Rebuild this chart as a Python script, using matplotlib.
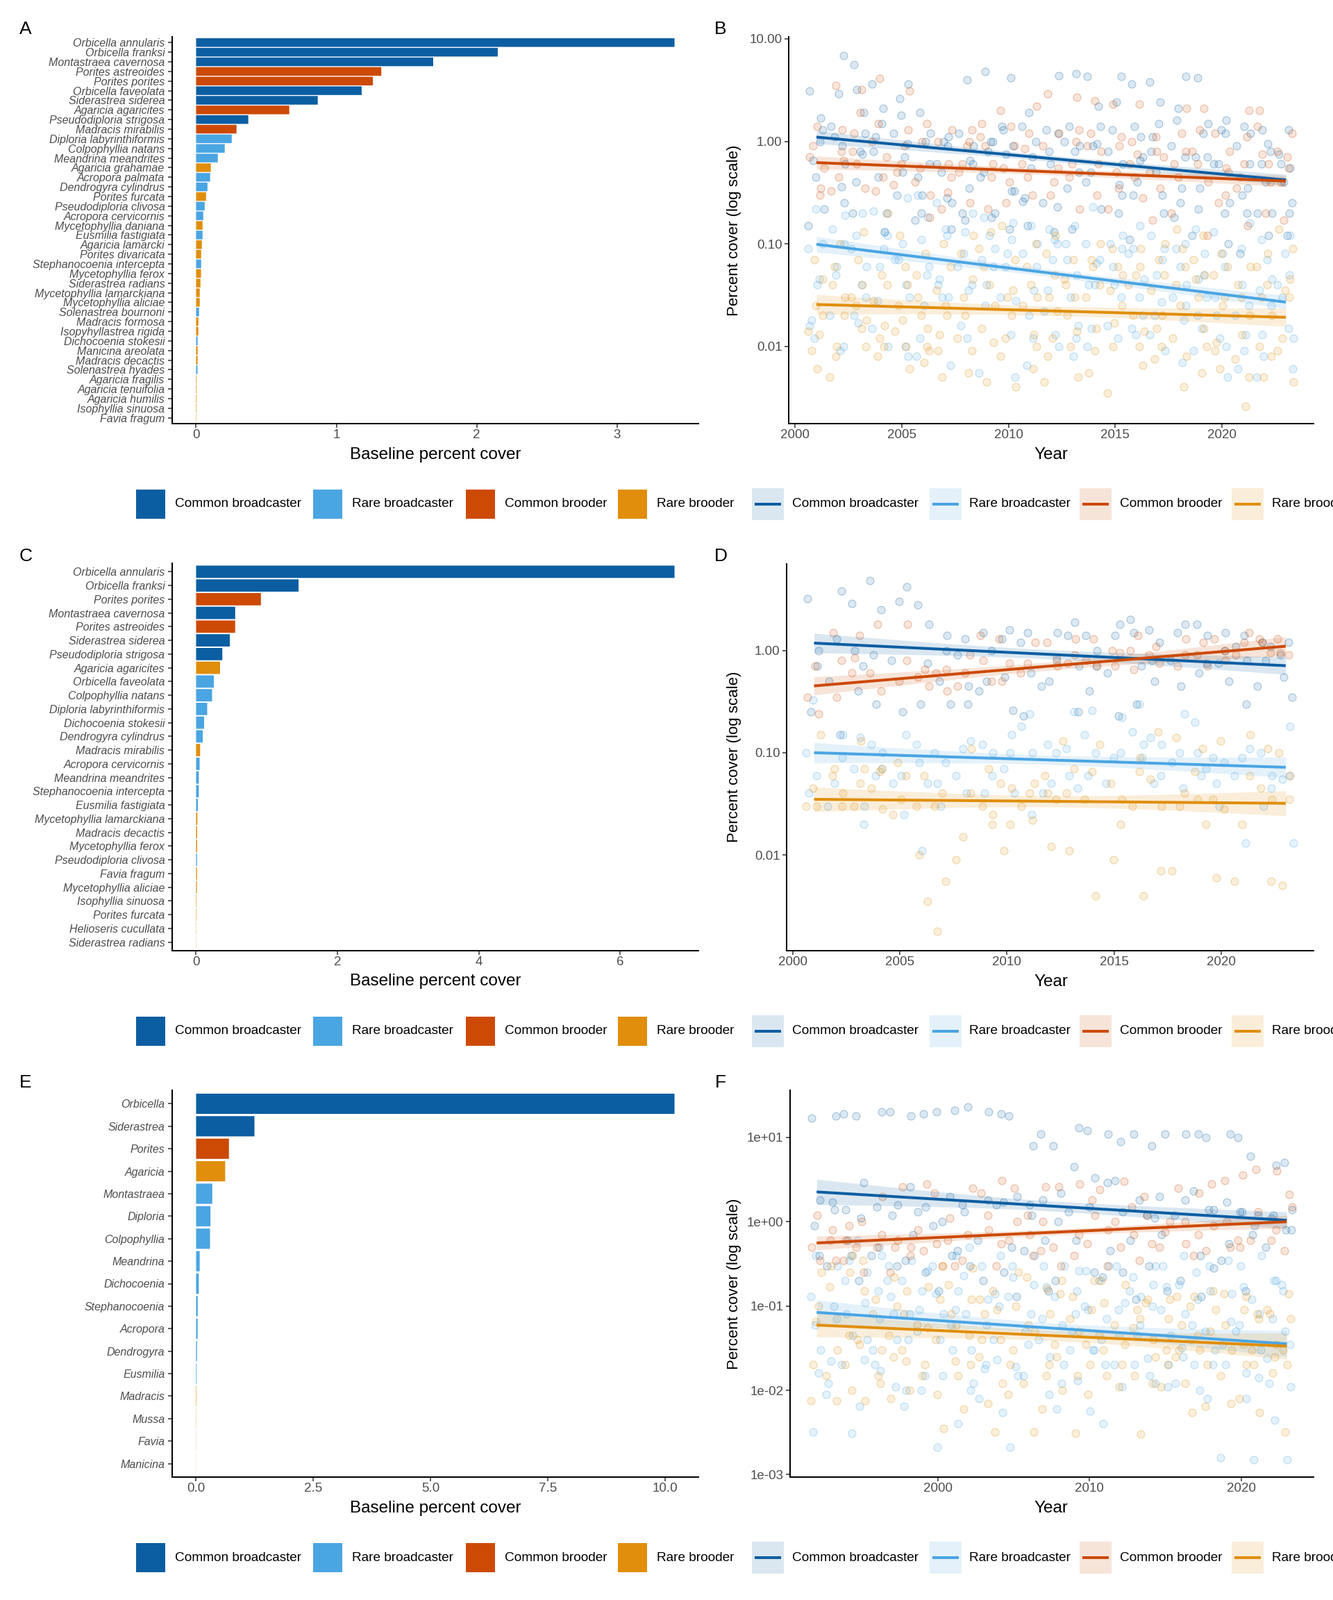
import numpy as np
import matplotlib
matplotlib.use('Agg')
import matplotlib.pyplot as plt
from matplotlib.patches import Rectangle
from matplotlib.lines import Line2D
from matplotlib.colors import to_rgba
from matplotlib.ticker import FixedLocator, NullLocator

plt.rcParams['font.family'] = ['Liberation Sans', 'DejaVu Sans']

# ---------------- data ----------------
GROUPS = ['Common broadcaster', 'Rare broadcaster', 'Common brooder', 'Rare brooder']
CODES = ['CB', 'RB', 'CBr', 'RBr']
COLORS = ['#0B5EA2', '#4AA5E3', '#CC4A04', '#E08E0B']

A_species = ['Orbicella annularis', 'Orbicella franksi', 'Montastraea cavernosa', 'Porites astreoides',
             'Porites porites', 'Orbicella faveolata', 'Siderastrea siderea', 'Agaricia agaricites',
             'Pseudodiploria strigosa', 'Madracis mirabilis', 'Diploria labyrinthiformis', 'Colpophyllia natans',
             'Meandrina meandrites', 'Agaricia grahamae', 'Acropora palmata', 'Dendrogyra cylindrus',
             'Porites furcata', 'Pseudodiploria clivosa', 'Acropora cervicornis', 'Mycetophyllia daniana',
             'Eusmilia fastigiata', 'Agaricia lamarcki', 'Porites divaricata', 'Stephanocoenia intercepta',
             'Mycetophyllia ferox', 'Siderastrea radians', 'Mycetophyllia lamarckiana', 'Mycetophyllia aliciae',
             'Solenastrea bournoni', 'Madracis formosa', 'Isopyhyllastrea rigida', 'Dichocoenia stokesii',
             'Manicina areolata', 'Madracis decactis', 'Solenastrea hyades', 'Agaricia fragilis',
             'Agaricia tenuifolia', 'Agaricia humilis', 'Isophyllia sinuosa', 'Favia fragum']
A_cover = [3.41, 2.15, 1.69, 1.32, 1.26, 1.18, 0.867, 0.664, 0.372, 0.288, 0.254, 0.204, 0.155, 0.105,
           0.100, 0.081, 0.071, 0.061, 0.051, 0.046, 0.046, 0.041, 0.036, 0.036, 0.035, 0.031, 0.026,
           0.026, 0.021, 0.016, 0.016, 0.011, 0.011, 0.011, 0.010, 0.004, 0.004, 0.004, 0.003, 0.002]
A_group = ['CB', 'CB', 'CB', 'CBr', 'CBr', 'CB', 'CB', 'CBr', 'CB', 'CBr', 'RB', 'RB', 'RB', 'RBr', 'RB',
           'RB', 'RBr', 'RB', 'RB', 'RBr', 'RB', 'RBr', 'RBr', 'RB', 'RBr', 'RBr', 'RBr', 'RBr', 'RB', 'RBr',
           'RBr', 'RB', 'RBr', 'RBr', 'RB', 'RBr', 'RBr', 'RBr', 'RBr', 'RBr']
A_ticks = [0, 1, 2, 3]
A_ticklabels = ['0', '1', '2', '3']

C_species = ['Orbicella annularis', 'Orbicella franksi', 'Porites porites', 'Montastraea cavernosa',
             'Porites astreoides', 'Siderastrea siderea', 'Pseudodiploria strigosa', 'Agaricia agaricites',
             'Orbicella faveolata', 'Colpophyllia natans', 'Diploria labyrinthiformis', 'Dichocoenia stokesii',
             'Dendrogyra cylindrus', 'Madracis mirabilis', 'Acropora cervicornis', 'Meandrina meandrites',
             'Stephanocoenia intercepta', 'Eusmilia fastigiata', 'Mycetophyllia lamarckiana', 'Madracis decactis',
             'Mycetophyllia ferox', 'Pseudodiploria clivosa', 'Favia fragum', 'Mycetophyllia aliciae',
             'Isophyllia sinuosa', 'Porites furcata', 'Helioseris cucullata', 'Siderastrea radians']
C_cover = [6.77, 1.45, 0.917, 0.553, 0.553, 0.477, 0.371, 0.339, 0.251, 0.226, 0.157, 0.113, 0.094, 0.057,
           0.050, 0.038, 0.038, 0.025, 0.018, 0.015, 0.015, 0.013, 0.013, 0.012, 0.006, 0.005, 0.003, 0.002]
C_group = ['CB', 'CB', 'CBr', 'CB', 'CBr', 'CB', 'CB', 'RBr', 'RB', 'RB', 'RB', 'RB', 'RB', 'RBr', 'RB',
           'RB', 'RB', 'RB', 'RBr', 'RBr', 'RBr', 'RB', 'RBr', 'RBr', 'RBr', 'RBr', 'RBr', 'RBr']
C_ticks = [0, 2, 4, 6]
C_ticklabels = ['0', '2', '4', '6']

E_genus = ['Orbicella', 'Siderastrea', 'Porites', 'Agaricia', 'Montastraea', 'Diploria', 'Colpophyllia',
           'Meandrina', 'Dichocoenia', 'Stephanocoenia', 'Acropora', 'Dendrogyra', 'Eusmilia', 'Madracis',
           'Mussa', 'Favia', 'Manicina']
E_cover = [10.2, 1.244, 0.70, 0.62, 0.345, 0.306, 0.297, 0.077, 0.057, 0.035, 0.033, 0.020, 0.012, 0.008,
           0.004, 0.003, 0.002]
E_group = ['CB', 'CB', 'CBr', 'RBr', 'RB', 'RB', 'RB', 'RB', 'RB', 'RB', 'RB', 'RB', 'RB', 'RBr', 'RBr',
           'RBr', 'RBr']
E_ticks = [0, 2.5, 5, 7.5, 10]
E_ticklabels = ['0.0', '2.5', '5.0', '7.5', '10.0']

# ---- panel B (species-level cover per year, 2001-2023) ----
B_years = list(range(2001, 2024))
B_cb = [[3.1, 1.7, 1.0, 0.65, 0.22, 1.3, 0.45, 0.15], [6.9, 2.9, 1.4, 0.9, 0.36, 1.1, 0.6, 0.25],
        [5.6, 3.2, 1.2, 0.8, 0.2, 1.9, 0.75, 0.4], [3.6, 2.1, 1.1, 0.45, 0.2, 1.5, 0.8, 0.13],
        [3.6, 1.8, 1.2, 0.7, 0.3, 2.6, 0.95, 0.5], [1.9, 1.2, 0.6, 0.3, 0.17, 1.0, 0.45, 0.2],
        [1.1, 0.9, 0.5, 0.25, 0.14, 1.0, 0.6, 0.28], [4.0, 1.2, 0.65, 0.35, 0.2, 0.9, 0.6, 0.17],
        [4.8, 1.0, 0.8, 0.45, 0.18, 1.0, 0.5, 0.2], [4.2, 1.3, 0.75, 0.33, 0.14, 1.4, 0.9, 0.33],
        [1.9, 1.4, 0.7, 0.28, 0.15, 1.0, 0.55, 0.26], [4.4, 1.2, 0.6, 0.25, 0.13, 1.3, 0.8, 0.23],
        [4.6, 1.4, 0.9, 0.5, 0.14, 1.0, 0.8, 0.35], [4.3, 2.2, 0.95, 0.5, 0.22, 1.4, 0.9, 0.4],
        [4.3, 2.4, 0.8, 0.38, 0.2, 1.3, 0.6, 0.3], [3.6, 1.4, 0.7, 0.4, 0.11, 1.1, 0.65, 0.3],
        [3.8, 2.4, 1.1, 0.5, 0.2, 1.5, 0.8, 0.3], [4.3, 2.1, 0.9, 0.35, 0.18, 1.6, 0.7, 0.25],
        [4.2, 1.5, 0.7, 0.35, 0.12, 1.2, 0.7, 0.22], [1.6, 1.2, 0.6, 0.25, 0.1, 1.3, 0.6, 0.2],
        [1.4, 0.9, 0.35, 0.2, 0.08, 1.2, 0.6, 0.3], [1.3, 0.8, 0.4, 0.2, 0.12, 0.95, 0.6, 0.2],
        [1.3, 0.6, 0.4, 0.25, 0.12, 0.75, 0.55, 0.2]]
B_rb = [[0.22, 0.09, 0.045, 0.018, 0.012, 0.1, 0.04, 0.016], [0.19, 0.1, 0.06, 0.02, 0.009, 0.14, 0.05, 0.01],
        [0.2, 0.12, 0.06, 0.03, 0.017, 0.09, 0.04, 0.02], [0.21, 0.13, 0.09, 0.028, 0.01, 0.12, 0.06, 0.015],
        [0.28, 0.1, 0.07, 0.04, 0.01, 0.07, 0.03, 0.008], [0.3, 0.11, 0.06, 0.025, 0.008, 0.18, 0.05, 0.012],
        [0.25, 0.12, 0.045, 0.03, 0.0065, 0.14, 0.04, 0.03], [0.2, 0.13, 0.06, 0.035, 0.016, 0.08, 0.04, 0.012],
        [0.18, 0.09, 0.06, 0.04, 0.0055, 0.12, 0.07, 0.025], [0.16, 0.11, 0.06, 0.028, 0.005, 0.08, 0.03, 0.013],
        [0.15, 0.08, 0.035, 0.012, 0.0065, 0.1, 0.06, 0.02], [0.14, 0.1, 0.07, 0.022, 0.013, 0.11, 0.035, 0.01],
        [0.15, 0.07, 0.03, 0.016, 0.008, 0.1, 0.05, 0.012], [0.23, 0.1, 0.065, 0.04, 0.015, 0.07, 0.04, 0.01],
        [0.12, 0.09, 0.04, 0.016, 0.012, 0.1, 0.06, 0.03], [0.15, 0.09, 0.045, 0.02, 0.013, 0.08, 0.03, 0.015],
        [0.12, 0.07, 0.027, 0.02, 0.009, 0.09, 0.05, 0.013], [0.1, 0.06, 0.03, 0.018, 0.007, 0.09, 0.04, 0.025],
        [0.14, 0.045, 0.03, 0.015, 0.009, 0.08, 0.05, 0.02], [0.13, 0.06, 0.02, 0.012, 0.005, 0.08, 0.03, 0.01],
        [0.16, 0.04, 0.02, 0.013, 0.006, 0.09, 0.025, 0.009], [0.11, 0.045, 0.025, 0.008, 0.005, 0.07, 0.035, 0.013],
        [0.12, 0.05, 0.03, 0.012, 0.006, 0.08, 0.04, 0.015]]
B_cbr = [[1.4, 0.7, 0.35, 0.3, 0.9, 0.55], [3.5, 0.65, 0.45, 0.33, 1.3, 0.8], [3.2, 1.2, 0.6, 0.35, 1.9, 0.8],
         [4.1, 1.0, 0.45, 0.33, 1.5, 0.7], [3.1, 1.3, 0.6, 0.38, 0.9, 0.5], [1.5, 0.55, 0.3, 0.18, 1.0, 0.4],
         [1.0, 0.6, 0.32, 0.22, 1.3, 0.45], [1.3, 0.9, 0.5, 0.25, 1.0, 0.6], [1.5, 0.9, 0.6, 0.22, 1.1, 0.45],
         [2.0, 1.4, 0.55, 0.25, 0.9, 0.4], [2.2, 1.2, 0.6, 0.3, 0.85, 0.45], [2.9, 1.2, 0.55, 0.3, 0.9, 0.4],
         [2.7, 1.0, 0.45, 0.22, 1.3, 0.6], [2.5, 0.9, 0.6, 0.3, 1.2, 0.8], [2.3, 1.1, 0.5, 0.22, 0.9, 0.35],
         [2.3, 1.0, 0.45, 0.28, 0.75, 0.6], [0.8, 0.5, 0.35, 0.17, 1.1, 0.7], [2.1, 0.8, 0.45, 0.2, 1.2, 0.6],
         [2.1, 0.6, 0.4, 0.12, 1.3, 0.8], [1.2, 0.55, 0.3, 0.25, 0.8, 0.5], [2.0, 0.6, 0.35, 0.15, 1.1, 0.45],
         [2.0, 0.75, 0.4, 0.2, 1.4, 0.6], [0.8, 0.55, 0.4, 0.17, 1.2, 0.7]]
B_rbr = [[0.045, 0.025, 0.014, 0.013, 0.009, 0.07, 0.02, 0.006],
         [0.06, 0.03, 0.02, 0.01, 0.005, 0.1, 0.04, 0.008],
         [0.13, 0.04, 0.025, 0.018, 0.01, 0.07, 0.03, 0.015],
         [0.05, 0.028, 0.016, 0.01, 0.008, 0.2, 0.04, 0.012],
         [0.12, 0.04, 0.018, 0.014, 0.01, 0.06, 0.025, 0.006],
         [0.08, 0.03, 0.02, 0.009, 0.007, 0.05, 0.015, 0.01],
         [0.1, 0.035, 0.02, 0.013, 0.005, 0.06, 0.025, 0.009],
         [0.12, 0.045, 0.02, 0.012, 0.0055, 0.08, 0.03, 0.009],
         [0.13, 0.06, 0.025, 0.011, 0.0045, 0.09, 0.04, 0.015],
         [0.15, 0.035, 0.02, 0.012, 0.004, 0.07, 0.03, 0.008],
         [0.1, 0.04, 0.025, 0.013, 0.006, 0.06, 0.03, 0.01],
         [0.08, 0.03, 0.022, 0.012, 0.0045, 0.12, 0.05, 0.008],
         [0.045, 0.03, 0.02, 0.01, 0.005, 0.07, 0.04, 0.014],
         [0.1, 0.06, 0.03, 0.015, 0.0055, 0.07, 0.04, 0.009],
         [0.09, 0.05, 0.025, 0.017, 0.0035, 0.06, 0.035, 0.01],
         [0.09, 0.06, 0.02, 0.014, 0.0065, 0.05, 0.04, 0.01],
         [0.07, 0.035, 0.02, 0.01, 0.0075, 0.1, 0.05, 0.015],
         [0.14, 0.06, 0.025, 0.012, 0.004, 0.09, 0.04, 0.008],
         [0.12, 0.045, 0.03, 0.01, 0.0055, 0.07, 0.05, 0.015],
         [0.08, 0.05, 0.03, 0.011, 0.006, 0.06, 0.025, 0.009],
         [0.06, 0.02, 0.013, 0.0075, 0.0026, 0.04, 0.03, 0.005],
         [0.08, 0.03, 0.02, 0.008, 0.005, 0.06, 0.04, 0.01],
         [0.14, 0.045, 0.03, 0.012, 0.0045, 0.09, 0.035, 0.009]]
# fitted trends (value at first and last year) and CI half-widths in log10 units: CB, RB, CBr, RBr
B_fit_start = [1.10, 0.099, 0.62, 0.0256]
B_fit_end = [0.42, 0.027, 0.41, 0.0192]
B_ci_start = [0.064, 0.076, 0.064, 0.096]
B_ci_mid = [0.03, 0.035, 0.03, 0.045]
B_ci_end = [0.055, 0.064, 0.057, 0.09]

# ---- panel D ----
D_years = list(range(2001, 2024))
D_cb = [[3.2, 1.0, 0.7, 0.25], [3.8, 1.3, 0.5, 0.15], [2.9, 1.0, 0.7, 0.4], [4.8, 2.5, 0.9, 0.3],
        [4.2, 3.0, 0.8, 0.25], [2.8, 1.8, 0.75, 0.3], [1.4, 1.0, 0.5, 0.3], [1.3, 0.9, 0.45, 0.3],
        [1.5, 1.0, 0.5, 0.4], [1.6, 1.3, 0.55, 0.26], [1.5, 1.2, 0.6, 0.23], [1.5, 0.8, 0.5, 0.45],
        [1.9, 1.4, 0.7, 0.25], [1.4, 1.0, 0.7, 0.4], [1.8, 1.4, 0.6, 0.23], [2.0, 1.5, 0.7, 0.3],
        [1.6, 1.2, 0.8, 0.5], [1.8, 1.5, 0.8, 0.45], [1.8, 1.4, 0.75, 0.6], [1.5, 1.0, 0.75, 0.5],
        [1.4, 1.1, 0.8, 0.3], [1.2, 1.1, 0.8, 0.45], [1.2, 0.9, 0.55, 0.35]]
D_rb = [[0.33, 0.1, 0.06, 0.04], [0.15, 0.09, 0.05, 0.03], [0.14, 0.07, 0.03, 0.02], [0.12, 0.1, 0.07, 0.06],
        [0.15, 0.06, 0.05, 0.025], [0.12, 0.08, 0.05, 0.011], [0.1, 0.08, 0.05, 0.03], [0.13, 0.11, 0.06, 0.04],
        [0.12, 0.1, 0.06, 0.04], [0.15, 0.1, 0.07, 0.04], [0.24, 0.18, 0.1, 0.025], [0.12, 0.1, 0.05, 0.04],
        [0.25, 0.11, 0.06, 0.045], [0.26, 0.15, 0.1, 0.06], [0.22, 0.1, 0.09, 0.05], [0.3, 0.16, 0.12, 0.09],
        [0.14, 0.12, 0.06, 0.05], [0.24, 0.1, 0.08, 0.045], [0.2, 0.1, 0.07, 0.06], [0.09, 0.08, 0.05, 0.03],
        [0.11, 0.09, 0.06, 0.013], [0.1, 0.06, 0.045, 0.03], [0.18, 0.06, 0.055, 0.013]]
D_cbr = [[0.7, 0.35, 0.24], [1.5, 0.8, 0.35], [1.4, 0.6, 0.85], [1.8, 0.6, 0.4], [1.8, 0.8, 0.5],
         [0.65, 0.55, 0.45], [0.6, 0.4, 0.65], [0.9, 0.6, 0.45], [1.4, 0.8, 0.5], [1.3, 0.75, 0.5],
         [1.2, 0.75, 0.6], [1.2, 0.7, 0.85], [1.3, 0.9, 0.75], [1.3, 0.8, 0.7], [1.0, 0.95, 0.7],
         [1.4, 1.0, 0.65], [1.1, 0.9, 0.75], [1.3, 0.9, 0.7], [1.2, 0.9, 0.7], [1.3, 0.8, 1.0],
         [1.5, 1.2, 0.9], [1.3, 1.2, 0.95], [1.3, 0.9, 0.95]]
D_rbr = [[0.15, 0.045, 0.03, 0.03], [0.06, 0.04, 0.03, 0.07], [0.13, 0.05, 0.03, 0.07], [0.065, 0.045, 0.028, 0.07],
         [0.08, 0.06, 0.035, 0.025], [0.06, 0.03, 0.01, 0.0035], [0.04, 0.03, 0.0055, 0.0018],
         [0.11, 0.04, 0.015, 0.009], [0.07, 0.03, 0.025, 0.02], [0.05, 0.045, 0.02, 0.011],
         [0.05, 0.04, 0.03, 0.022], [0.06, 0.04, 0.035, 0.012], [0.13, 0.07, 0.04, 0.011],
         [0.12, 0.065, 0.035, 0.004], [0.05, 0.035, 0.02, 0.009], [0.09, 0.065, 0.03, 0.004],
         [0.16, 0.055, 0.03, 0.007], [0.14, 0.04, 0.03, 0.007], [0.11, 0.065, 0.035, 0.02],
         [0.13, 0.035, 0.028, 0.006], [0.15, 0.06, 0.02, 0.0055], [0.11, 0.045, 0.035, 0.0055],
         [0.1, 0.06, 0.035, 0.005]]
D_fit_start = [1.18, 0.10, 0.45, 0.035]
D_fit_end = [0.71, 0.072, 1.10, 0.032]
D_ci_start = [0.096, 0.099, 0.089, 0.12]
D_ci_mid = [0.045, 0.045, 0.04, 0.055]
D_ci_end = [0.086, 0.10, 0.093, 0.123]

# ---- panel F (genus-level, 1992-2023) ----
F_years = list(range(1992, 2024))
F_cb = [[17, 1.8, 0.4, 0.9], [18, 1.7, 0.3, 1.4], [19, 1.4, 0.4, 0.6], [18, 2.9, 0.2, 1.1], [20, 1.5, 0.4, 0.5],
        [20, 1.6, 0.3, 1.2], [18, 2.6, 0.35, 0.7], [19, 1.3, 0.25, 1.5], [20, 1.0, 0.15, 0.9], [21, 2.0, 0.4, 0.45],
        [23, 1.6, 0.3, 1.3], [20, 1.8, 0.2, 0.6], [19, 1.6, 0.25, 1.7], [18, 2.0, 0.13, 0.5], [8, 1.6, 0.45, 1.2],
        [11, 1.8, 0.15, 0.6], [8, 2.2, 0.2, 1.0], [13, 4.5, 1.3, 0.6], [12, 3.3, 0.25, 1.5], [11, 2.9, 0.22, 0.45],
        [9, 3.1, 0.25, 1.3], [11, 1.8, 0.12, 0.6], [8, 1.2, 0.3, 1.1], [11, 2.0, 0.15, 0.7], [11, 1.8, 0.2, 1.2],
        [11, 2.3, 0.13, 0.4], [10, 1.4, 0.28, 1.4], [11, 1.7, 0.35, 0.55], [10, 1.3, 0.15, 1.3], [6, 1.2, 0.7, 0.9],
        [4.7, 1.1, 0.5, 1.2], [5, 1.4, 0.8, 0.8]]
F_rb = [[0.4, 0.13, 0.016, 0.0032, 0.06, 0.03], [0.3, 0.07, 0.022, 0.009, 0.1, 0.012],
        [0.35, 0.2, 0.045, 0.0031, 0.08, 0.02], [0.6, 0.11, 0.023, 0.0065, 0.25, 0.04],
        [0.4, 0.15, 0.03, 0.017, 0.07, 0.02], [0.3, 0.13, 0.04, 0.08, 0.2, 0.011],
        [0.2, 0.08, 0.0065, 0.01, 0.35, 0.04], [0.26, 0.15, 0.05, 0.015, 0.09, 0.01],
        [0.14, 0.08, 0.015, 0.0021, 0.3, 0.04], [0.4, 0.09, 0.06, 0.004, 0.15, 0.03],
        [0.5, 0.23, 0.03, 0.01, 0.08, 0.012], [0.3, 0.12, 0.018, 0.008, 0.06, 0.02],
        [0.4, 0.14, 0.023, 0.0055, 0.1, 0.04], [0.22, 0.13, 0.019, 0.0021, 0.3, 0.015],
        [0.4, 0.18, 0.035, 0.015, 0.08, 0.05], [0.17, 0.07, 0.025, 0.009, 0.3, 0.04],
        [0.13, 0.06, 0.012, 0.006, 0.3, 0.02], [0.26, 0.08, 0.03, 0.013, 0.15, 0.05],
        [0.26, 0.09, 0.03, 0.0057, 0.1, 0.03], [0.2, 0.07, 0.04, 0.004, 0.3, 0.02],
        [0.11, 0.045, 0.02, 0.011, 0.3, 0.09], [0.22, 0.13, 0.06, 0.02, 0.15, 0.045],
        [0.18, 0.1, 0.024, 0.012, 0.3, 0.015], [0.17, 0.09, 0.02, 0.011, 0.3, 0.045],
        [0.18, 0.08, 0.032, 0.012, 0.4, 0.025], [0.12, 0.06, 0.02, 0.01, 0.25, 0.04],
        [0.15, 0.05, 0.02, 0.008, 0.3, 0.03], [0.14, 0.065, 0.02, 0.0016, 0.35, 0.035],
        [0.17, 0.06, 0.016, 0.008, 0.3, 0.05], [0.12, 0.08, 0.014, 0.0015, 0.4, 0.03],
        [0.2, 0.07, 0.024, 0.0044, 0.2, 0.012], [0.15, 0.05, 0.011, 0.0015, 0.18, 0.035]]
F_cbr = [[1.2, 0.5, 0.35], [0.6, 0.35, 0.8], [0.9, 0.35, 0.6], [1.0, 0.5, 0.25], [2.0, 0.7, 0.5], [0.5, 0.25, 0.6],
         [2.6, 0.5, 0.4], [2.8, 0.45, 0.8], [2.2, 0.55, 0.3], [0.6, 0.3, 1.1], [2.5, 0.7, 0.35], [2.2, 0.8, 1.2],
         [3.1, 0.55, 0.3], [2.5, 0.6, 1.0], [1.2, 0.4, 0.7], [2.6, 0.45, 1.0], [2.6, 0.5, 0.3], [2.8, 0.7, 0.4],
         [1.8, 0.55, 1.2], [2.4, 0.8, 0.3], [3.0, 0.5, 1.0], [1.5, 0.7, 0.35], [2.0, 0.55, 1.2], [1.0, 0.75, 0.5],
         [2.5, 0.55, 1.0], [2.2, 0.7, 0.4], [2.8, 0.45, 0.9], [3.1, 0.5, 1.0], [3.6, 0.6, 0.5], [4.2, 0.6, 1.3],
         [4.0, 0.8, 0.6], [2.1, 0.45, 1.5]]
F_rbr = [[0.25, 0.065, 0.0075, 0.1, 0.02], [0.17, 0.03, 0.0075, 0.3, 0.015], [0.25, 0.045, 0.02, 0.4, 0.01],
         [0.35, 0.04, 0.0075, 0.15, 0.035], [0.12, 0.03, 0.015, 0.08, 0.012], [0.22, 0.045, 0.008, 0.1, 0.025],
         [0.15, 0.03, 0.01, 0.08, 0.022], [0.17, 0.055, 0.015, 0.06, 0.02], [0.12, 0.04, 0.0035, 0.3, 0.009],
         [0.18, 0.06, 0.022, 0.08, 0.015], [0.28, 0.045, 0.006, 0.12, 0.02], [0.12, 0.04, 0.007, 0.08, 0.025],
         [0.15, 0.04, 0.0032, 0.09, 0.012], [0.25, 0.03, 0.009, 0.1, 0.02], [0.22, 0.05, 0.0032, 0.06, 0.012],
         [0.16, 0.015, 0.006, 0.08, 0.02], [0.14, 0.035, 0.01, 0.2, 0.025], [0.13, 0.05, 0.0031, 0.07, 0.015],
         [0.09, 0.035, 0.009, 0.2, 0.02], [0.11, 0.045, 0.015, 0.2, 0.03], [0.18, 0.035, 0.011, 0.06, 0.02],
         [0.09, 0.055, 0.003, 0.07, 0.015], [0.11, 0.04, 0.012, 0.12, 0.025], [0.12, 0.03, 0.011, 0.07, 0.02],
         [0.13, 0.03, 0.012, 0.06, 0.025], [0.1, 0.045, 0.0055, 0.13, 0.03], [0.09, 0.05, 0.0065, 0.15, 0.02],
         [0.14, 0.03, 0.007, 0.06, 0.015], [0.09, 0.035, 0.008, 0.13, 0.02], [0.08, 0.03, 0.0055, 0.07, 0.02],
         [0.08, 0.035, 0.016, 0.09, 0.025], [0.14, 0.03, 0.0032, 0.07, 0.02]]
F_fit_start = [2.26, 0.084, 0.56, 0.0594]
F_fit_end = [1.04, 0.0356, 1.0, 0.0334]
F_ci_start = [0.15, 0.148, 0.082, 0.142]
F_ci_mid = [0.06, 0.06, 0.035, 0.06]
F_ci_end = [0.10, 0.156, 0.078, 0.156]

# ---------------- styling / layout ----------------
W, H = 1920, 2304
ROW = 758.5
JITTER = [-0.32, 0.12, -0.15, 0.28, -0.04, 0.2, -0.24, 0.35, 0.05, -0.38, 0.16, -0.1, 0.31]
TICK_C = '#4D4D4D'
col_of = dict(zip(CODES, COLORS))

fig = plt.figure(figsize=(W / 100, H / 100), dpi=100)


def rect(l, t, r, b):
    return [l / W, 1 - b / H, (r - l) / W, (b - t) / H]


def style_axes(ax):
    for s in ['top', 'right']:
        ax.spines[s].set_visible(False)
    for s in ['left', 'bottom']:
        ax.spines[s].set_linewidth(1.45)
        ax.spines[s].set_color('black')
    ax.tick_params(axis='both', which='major', length=4.3, width=1.1, color='#333333',
                   labelcolor=TICK_C)
    ax.tick_params(axis='x', labelsize=13.5, pad=1.5)


def bar_panel(ax, names, vals, groups, ticks, ticklabels):
    n = len(names)
    pos = np.arange(n)
    ax.barh(pos, vals, height=0.9, color=[col_of[g] for g in groups], linewidth=0, snap=False)
    vmax = max(vals)
    ax.set_xlim(-0.05 * vmax, 1.05 * vmax)
    ax.set_ylim(n - 1 + 0.6, -0.6)
    ax.set_yticks(pos)
    ax.set_yticklabels(names, fontstyle='italic', fontsize=11.5)
    ax.set_xticks(ticks)
    ax.set_xticklabels(ticklabels)
    style_axes(ax)
    ax.tick_params(axis='y', pad=3.4)


def scatter_panel(ax, years, group_data, fit_s, fit_e, ci_s, ci_m, ci_e, xlim, ylim, yticks, ylabels, xticks):
    nj = len(JITTER)
    for gi, vals in enumerate(group_data):
        xs, ys = [], []
        for j, (yr, yv) in enumerate(zip(years, vals)):
            for i, v in enumerate(yv):
                xs.append(yr + JITTER[(i * 5 + j * 3 + gi * 4) % nj])
                ys.append(v)
        c = COLORS[gi]
        ax.scatter(xs, ys, s=62, facecolor=to_rgba(c, 0.14), edgecolor=to_rgba(c, 0.33),
                   linewidths=0.8, zorder=2)
    x0, x1 = years[0], years[-1]
    xg = np.linspace(x0, x1, 120)
    t = (xg - (x0 + x1) / 2) / ((x1 - x0) / 2)
    for gi in range(4):
        c = COLORS[gi]
        ly = np.log10(fit_s[gi]) + (np.log10(fit_e[gi]) - np.log10(fit_s[gi])) * (xg - x0) / (x1 - x0)
        m = ci_m[gi]
        hw = np.where(t < 0, np.sqrt(m ** 2 + (ci_s[gi] ** 2 - m ** 2) * t ** 2),
                      np.sqrt(m ** 2 + (ci_e[gi] ** 2 - m ** 2) * t ** 2))
        ax.fill_between(xg, 10 ** (ly - hw), 10 ** (ly + hw), color=c, alpha=0.15, linewidth=0, zorder=3)
        ax.plot(xg, 10 ** ly, color=c, lw=2.9, zorder=4, solid_capstyle='butt')
    ax.set_yscale('log')
    ax.set_xlim(*xlim)
    ax.set_ylim(*ylim)
    ax.yaxis.set_major_locator(FixedLocator(yticks))
    ax.yaxis.set_minor_locator(NullLocator())
    ax.set_yticklabels(ylabels)
    ax.set_xticks(xticks)
    ax.set_xticklabels([str(x) for x in xticks])
    style_axes(ax)
    ax.tick_params(axis='y', labelsize=13.5, pad=2.5)


LEFT = (248, 1006)
TOP0, BOT0 = 53, 610

axA = fig.add_axes(rect(LEFT[0], TOP0, LEFT[1], BOT0))
bar_panel(axA, A_species, A_cover, A_group, A_ticks, A_ticklabels)
axC = fig.add_axes(rect(LEFT[0], TOP0 + ROW, LEFT[1], BOT0 + ROW))
bar_panel(axC, C_species, C_cover, C_group, C_ticks, C_ticklabels)
axE = fig.add_axes(rect(LEFT[0], TOP0 + 2 * ROW, LEFT[1], BOT0 + 2 * ROW))
bar_panel(axE, E_genus, E_cover, E_group, E_ticks, E_ticklabels)

axB = fig.add_axes(rect(1136, TOP0, 1892, BOT0))
scatter_panel(axB, B_years, [B_cb, B_rb, B_cbr, B_rbr], B_fit_start, B_fit_end, B_ci_start, B_ci_mid, B_ci_end,
              (1999.7, 2024.3), (10 ** -2.754, 10 ** 1.02), [10, 1, 0.1, 0.01],
              ['10.00', '1.00', '0.10', '0.01'], [2000, 2005, 2010, 2015, 2020])
axD = fig.add_axes(rect(1133, TOP0 + ROW, 1892, BOT0 + ROW))
scatter_panel(axD, D_years, [D_cb, D_rb, D_cbr, D_rbr], D_fit_start, D_fit_end, D_ci_start, D_ci_mid, D_ci_end,
              (1999.72, 2024.3), (10 ** -2.933, 10 ** 0.85), [1, 0.1, 0.01],
              ['1.00', '0.10', '0.01'], [2000, 2005, 2010, 2015, 2020])
axF = fig.add_axes(rect(1138, TOP0 + 2 * ROW, 1892, BOT0 + 2 * ROW))
scatter_panel(axF, F_years, [F_cb, F_rb, F_cbr, F_rbr], F_fit_start, F_fit_end, F_ci_start, F_ci_mid, F_ci_end,
              (1990.25, 2024.77), (10 ** -3.03, 10 ** 1.56), [10, 1, 0.1, 0.01, 0.001],
              ['1e+01', '1e+00', '1e-01', '1e-02', '1e-03'], [2000, 2010, 2020])

# overlay for titles, tags and legends
ov = fig.add_axes([0, 0, 1, 1])
ov.set_xlim(0, W)
ov.set_ylim(H, 0)
ov.axis('off')

KEY_X = [196, 451, 671, 890]
TEXT_X = [252, 507, 727, 946]
LKEY_X = [1083, 1339, 1555, 1774]
LTEXT_X = [1141, 1396, 1613, 1832]

for k in range(3):
    off = k * ROW
    ov.text(37, 42 + off, 'ABCDEF'[2 * k], fontsize=19, ha='center', va='center')
    ov.text(1038, 42 + off, 'ABCDEF'[2 * k + 1], fontsize=19, ha='center', va='center')
    ov.text((LEFT[0] + LEFT[1]) / 2, BOT0 + off + 45, 'Baseline percent cover', fontsize=17.5,
            ha='center', va='center')
    ov.text(1514, BOT0 + off + 45, 'Year', fontsize=17.5, ha='center', va='center')
    ov.text(1057, (TOP0 + BOT0) / 2 + off, 'Percent cover (log scale)', fontsize=16, rotation=90,
            ha='center', va='center')
    yc = 726 + off
    for i in range(4):
        ov.add_patch(Rectangle((KEY_X[i], yc - 21), 42, 42, facecolor=COLORS[i], edgecolor='none'))
        ov.text(TEXT_X[i], yc, GROUPS[i], fontsize=13.7, ha='left', va='center')
        ov.add_patch(Rectangle((LKEY_X[i], yc - 23), 46, 46, facecolor=COLORS[i], alpha=0.15,
                               edgecolor='none'))
        ov.add_line(Line2D([LKEY_X[i] + 4, LKEY_X[i] + 42], [yc, yc], color=COLORS[i], lw=2.9,
                           solid_capstyle='butt'))
        ov.text(LTEXT_X[i], yc, GROUPS[i], fontsize=13.7, ha='left', va='center')

fig.savefig('out.png', dpi=100, facecolor='white')
